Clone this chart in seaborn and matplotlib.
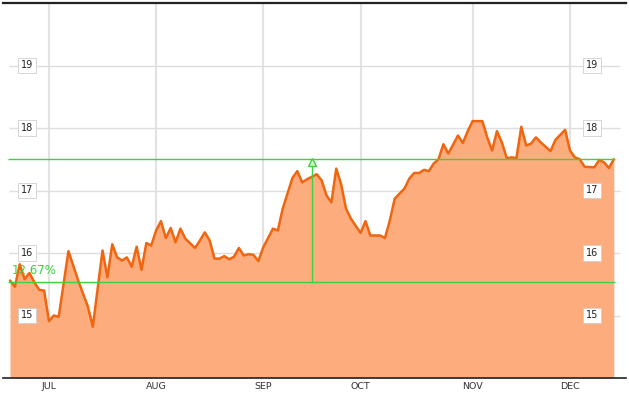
import matplotlib
matplotlib.use("Agg")
import matplotlib.pyplot as plt
import matplotlib.transforms as mtransforms
import seaborn as sns
import pandas as pd

# ---- data (trading-session index, price) ----
session = [0, 1, 2, 3, 4, 5, 6, 7, 8, 9, 10, 12, 14, 16, 17, 19, 20, 21, 22, 23,
           24, 25, 26, 27, 28, 29, 30, 31, 32, 33, 34, 35, 36, 38, 39, 40, 41, 42,
           43, 44, 45, 46, 47, 48, 49, 50, 51, 52, 54, 55, 56, 58, 59, 60, 61, 62,
           63, 64, 65, 66, 67, 68, 69, 70, 72, 73, 74, 76, 77, 78, 79, 81, 82, 83,
           84, 85, 86, 87, 88, 89, 90, 92, 93, 94, 95, 97, 98, 99, 100, 101, 102,
           103, 104, 105, 106, 107, 108, 109, 111, 112, 114, 115, 116, 117, 118,
           120, 121, 122, 123, 124]
price = [15.56, 15.46, 15.82, 15.58, 15.68, 15.53, 15.41, 15.40, 14.91, 15.00,
         14.98, 16.03, 15.56, 15.14, 14.82, 16.04, 15.61, 16.14, 15.93, 15.88,
         15.93, 15.78, 16.10, 15.73, 16.16, 16.12, 16.36, 16.51, 16.24, 16.40,
         16.17, 16.39, 16.23, 16.08, 16.20, 16.33, 16.20, 15.91, 15.91, 15.95,
         15.90, 15.94, 16.08, 15.96, 15.98, 15.97, 15.87, 16.09, 16.39, 16.36,
         16.71, 17.20, 17.31, 17.13, 17.18, 17.22, 17.26, 17.16, 16.92, 16.81,
         17.35, 17.10, 16.71, 16.55, 16.32, 16.51, 16.28, 16.28, 16.24, 16.52,
         16.87, 17.03, 17.19, 17.28, 17.28, 17.33, 17.31, 17.43, 17.50, 17.74,
         17.59, 17.88, 17.76, 17.95, 18.11, 18.11, 17.85, 17.64, 17.95, 17.77,
         17.52, 17.53, 17.52, 18.02, 17.72, 17.75, 17.85, 17.77, 17.63, 17.81,
         17.97, 17.64, 17.53, 17.50, 17.38, 17.37, 17.49, 17.45, 17.36, 17.50]

month_pos = [8, 30, 52, 72, 95, 115]
month_labels = ["JUL", "AUG", "SEP", "OCT", "NOV", "DEC"]
y_levels = [15, 16, 17, 18, 19]

low_level = 15.54
high_level = 17.51
marker_session = 62
change_label = "12.67%"

df = pd.DataFrame({"session": session, "price": price})

sns.set_style("white")
plt.rcParams["font.family"] = ["DejaVu Sans"]

fig = plt.figure(figsize=(6.29, 3.94), dpi=100)
ax = fig.add_axes([3 / 629, 16 / 394, 623 / 629, 375 / 394])

ax.set_xlim(-1.44, 126.5)
ax.set_ylim(14.0, 20.0)

# grid
ax.vlines(month_pos, 14.0, 20.0, colors="#e2e2e2", lw=1.5, zorder=0)
ax.hlines(y_levels, -0.2, 125.2, colors="#dedede", lw=1.0, zorder=0)

# area + line
ax.fill_between(df["session"], df["price"], 14.0, color="#fdac7e", lw=0, zorder=1)
sns.lineplot(data=df, x="session", y="price", ax=ax, color="#f0650f", lw=1.8,
             zorder=3, estimator=None)

# green level lines & marker
green = "#3fd13f"
ax.hlines([low_level, high_level], -0.4, 124.3, colors=green, lw=1.0, zorder=4)
ax.vlines(marker_session, low_level, high_level - 0.08, colors=green, lw=1.0, zorder=4)
ax.plot([marker_session], [high_level - 0.06], marker="^", ms=5.2, mfc="#d8f5c8",
        mec=green, mew=1.0, zorder=5)
ax.text(0.4, 15.72, change_label, color=green, fontsize=8.5, ha="left", va="center",
        zorder=6)

# y labels in boxes (left and right)
trans = mtransforms.blended_transform_factory(ax.transAxes, ax.transData)
for v in y_levels:
    for xf in (0.0385, 0.9455):
        ax.text(xf, v, str(v), transform=trans, ha="center", va="center",
                fontsize=7, color="#222222", zorder=7,
                bbox=dict(boxstyle="square,pad=0.3", fc="white", ec="#cfcfcf", lw=0.6))

# axes styling
ax.set_yticks([])
ax.set_xticks(month_pos)
ax.set_xticklabels(month_labels, fontsize=6.8, color="#333333")
ax.tick_params(axis="x", length=0, pad=3)
ax.set_xlabel("")
ax.set_ylabel("")
for side in ("left", "right"):
    ax.spines[side].set_visible(False)
ax.spines["top"].set_color("#222222")
ax.spines["top"].set_linewidth(1.6)
ax.spines["bottom"].set_color("#222222")
ax.spines["bottom"].set_linewidth(1.2)

fig.savefig("out.png", dpi=100)
